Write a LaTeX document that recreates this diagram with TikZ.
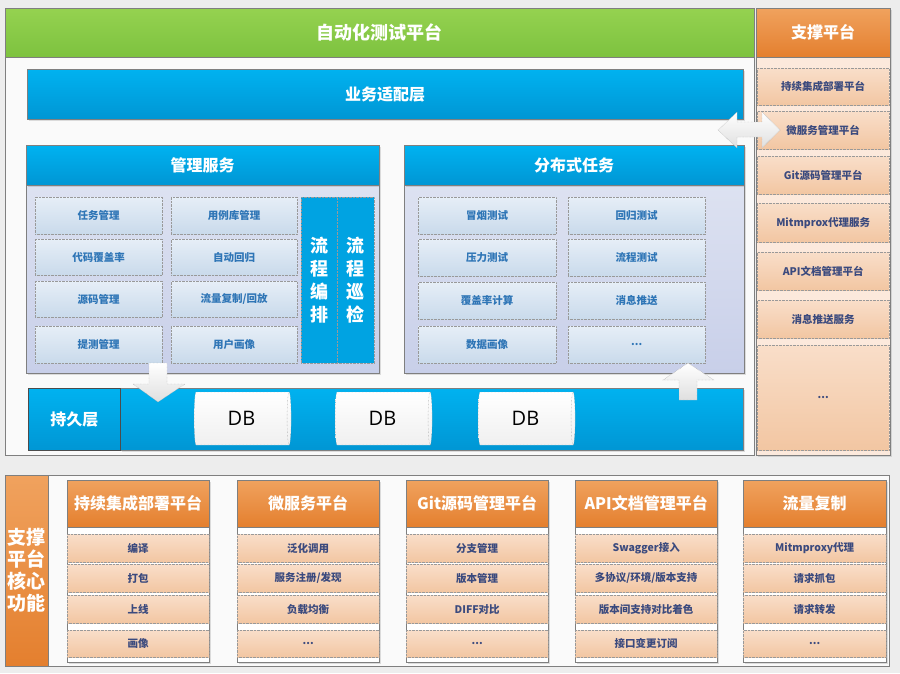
\documentclass[tikz,border=0pt]{standalone}
\usepackage{fontspec}
\setmainfont{Noto Sans CJK SC}
\newfontfamily\dbfont{Open Sans}
\usetikzlibrary{shapes.geometric,shadows}
\definecolor{bgc}{HTML}{EDEDED}
\definecolor{framec}{HTML}{FAFAFA}
\definecolor{framed}{HTML}{7F7F7F}
\definecolor{greenA}{HTML}{95D250}
\definecolor{greenB}{HTML}{7DC23F}
\definecolor{blueA}{HTML}{00B2F0}
\definecolor{blueB}{HTML}{0096D4}
\definecolor{blueC}{HTML}{00A3E2}
\definecolor{lavA}{HTML}{DDE2F1}
\definecolor{lavB}{HTML}{C8CFE9}
\definecolor{itA}{HTML}{E6EEF7}
\definecolor{itB}{HTML}{C9DAEB}
\definecolor{itT}{HTML}{2E75B6}
\definecolor{orA}{HTML}{F0A25E}
\definecolor{orB}{HTML}{E47F2E}
\definecolor{peA}{HTML}{F9DEC9}
\definecolor{peB}{HTML}{F2C6A2}
\definecolor{peBg}{HTML}{FCE9DC}
\definecolor{navyT}{HTML}{3B4A7E}
\newcommand\rb[7]{\pgfmathsetmacro\rbw{#5-#3}\pgfmathsetmacro\rbh{#6-#4}%
\node[inner sep=0pt,#1,anchor=north west,minimum width=\rbw pt,minimum height=\rbh pt] (#2) at (#3,#4) {#7};}
\begin{document}
\begin{tikzpicture}[x=1pt,y=-1pt,
  shd/.style={drop shadow={opacity=0.25,shadow xshift=1.5pt,shadow yshift=-1.5pt}},
  frame/.style={draw=framed,fill=framec,line width=0.8pt},
  greenhead/.style={draw=framed,top color=greenA,bottom color=greenB,text=white,font=\bfseries\fontsize{18}{21}\selectfont},
  bluehead/.style={draw=framed,top color=blueA,bottom color=blueB,text=white,font=\bfseries\fontsize{16}{19}\selectfont,shd},
  panel/.style={draw=framed,top color=lavA,bottom color=lavB,shd},
  bitem/.style={draw=gray!80,densely dotted,top color=itA,bottom color=itB,text=itT,font=\bfseries\fontsize{10.5}{12}\selectfont},
  vcol/.style={draw=gray!80,densely dotted,fill=blueC,text=white,align=center,font=\bfseries\fontsize{18}{23}\selectfont},
  orhead/.style={draw=framed,top color=orA,bottom color=orB,text=white,font=\bfseries\fontsize{16}{19}\selectfont},
  oitem/.style={draw=gray!80,densely dotted,top color=peA,bottom color=peB,text=navyT,font=\bfseries\fontsize{10.5}{12}\selectfont},
  colbox/.style={draw=framed,fill=white,shd},
  dbcyl/.style={cylinder,shape aspect=0.28,draw=gray!80,densely dotted,top color=white,bottom color=gray!12,inner sep=0pt,font=\dbfont\fontsize{20}{24}\selectfont,minimum width=53pt,minimum height=97pt},
  barrow/.style={draw=gray!80,densely dotted,top color=white,bottom color=gray!25}]
\useasboundingbox (0,0) rectangle (900,673);
\fill[bgc] (0,0) rectangle (900,673);

% main frame
\rb{frame}{main}{5}{8}{754}{455}{}
\rb{greenhead}{title}{5}{8}{754}{57}{自动化测试平台}
\rb{bluehead}{biz}{27}{69}{743}{119}{业务适配层}

% management service
\rb{panel}{mgmtbody}{26}{185}{379}{373}{}
\rb{bluehead}{mgmt}{26}{145}{379}{185}{管理服务}
\rb{bitem}{m11}{35}{197}{162}{234}{任务管理}
\rb{bitem}{m12}{35}{239}{162}{275}{代码覆盖率}
\rb{bitem}{m13}{35}{281}{162}{317}{源码管理}
\rb{bitem}{m14}{35}{326}{162}{363}{提测管理}
\rb{bitem}{m21}{171}{197}{297}{234}{用例库管理}
\rb{bitem}{m22}{171}{239}{297}{275}{自动回归}
\rb{bitem}{m23}{171}{281}{297}{317}{流量复制/回放}
\rb{bitem}{m24}{171}{326}{297}{363}{用户画像}
\rb{vcol}{flowa}{301}{197}{337}{363}{流\\程\\编\\排}
\rb{vcol}{flowb}{337}{197}{374}{363}{流\\程\\巡\\检}

% distributed tasks
\rb{panel}{distbody}{404}{185}{744}{373}{}
\rb{bluehead}{dist}{404}{145}{744}{185}{分布式任务}
\rb{bitem}{d11}{418}{197}{556}{234}{冒烟测试}
\rb{bitem}{d12}{418}{239}{556}{276}{压力测试}
\rb{bitem}{d13}{418}{282}{556}{319}{覆盖率计算}
\rb{bitem}{d14}{418}{326}{556}{363}{数据画像}
\rb{bitem}{d21}{568}{197}{705}{234}{回归测试}
\rb{bitem}{d22}{568}{239}{705}{276}{流程测试}
\rb{bitem}{d23}{568}{282}{705}{319}{消息推送}
\rb{bitem}{d24}{568}{326}{705}{363}{...}

% persistence layer
\rb{draw=framed,top color=blueA,bottom color=blueB,shd}{pbar}{120}{388}{743}{450}{}
\rb{draw=black!70,line width=0.8pt,top color=blueA,bottom color=blueB,text=white,font=\bfseries\fontsize{16}{19}\selectfont}{persist}{28}{388}{120}{450}{持久层}
\node[dbcyl] (db1) at (241.5,418.5) {DB};
\node[dbcyl] (db2) at (382.5,418.5) {DB};
\node[dbcyl] (db3) at (525.5,418.5) {DB};

% block arrows
\draw[barrow] (149,363) -- (167,363) -- (167,384) -- (185,384) -- (158,402) -- (133,384) -- (149,384) -- cycle;
\draw[barrow] (679,400) -- (697,400) -- (697,380) -- (714,380) -- (688,363) -- (663,380) -- (679,380) -- cycle;

% support platform
\rb{draw=framed,fill=peBg,shd}{supbody}{756}{8}{890}{455}{}
\rb{orhead}{sup}{756}{8}{890}{57}{支撑平台}
\rb{oitem}{s1}{757}{68}{889}{105}{持续集成部署平台}
\rb{oitem}{s2}{757}{111}{889}{149}{微服务管理平台}
\rb{oitem}{s3}{757}{156}{889}{194}{Git源码管理平台}
\rb{oitem}{s4}{757}{203}{889}{242}{Mitmprox代理服务}
\rb{oitem}{s5}{757}{252}{889}{290}{API文档管理平台}
\rb{oitem}{s6}{757}{300}{889}{338}{消息推送服务}
\rb{oitem}{s7}{757}{345}{889}{450}{...}

% double arrow
\draw[barrow] (718,130) -- (737,112) -- (737,122) -- (762,122) -- (762,112) -- (780,130) -- (762,148) -- (762,137) -- (737,137) -- (737,148) -- cycle;

% bottom section
\rb{frame}{core}{5}{475}{889}{666}{}
\rb{draw=framed,top color=orA,bottom color=orB,text=white,align=center,font=\bfseries\fontsize{19}{22}\selectfont}{corelab}{5}{475}{48}{666}{支撑\\平台\\核心\\功能}

\rb{colbox}{c1}{67}{480}{209}{662}{}
\rb{orhead}{h1}{67}{480}{209}{527}{持续集成部署平台}
\rb{oitem}{c1a}{67}{534}{209}{562}{编译}
\rb{oitem}{c1b}{67}{564}{209}{592}{打包}
\rb{oitem}{c1c}{67}{595}{209}{623}{上线}
\rb{oitem}{c1d}{67}{630}{209}{657}{画像}

\rb{colbox}{c2}{237}{480}{379}{662}{}
\rb{orhead}{h2}{237}{480}{379}{527}{微服务平台}
\rb{oitem}{c2a}{237}{534}{379}{562}{泛化调用}
\rb{oitem}{c2b}{237}{564}{379}{592}{服务注册/发现}
\rb{oitem}{c2c}{237}{595}{379}{623}{负载均衡}
\rb{oitem}{c2d}{237}{630}{379}{657}{...}

\rb{colbox}{c3}{406}{480}{548}{662}{}
\rb{orhead}{h3}{406}{480}{548}{527}{Git源码管理平台}
\rb{oitem}{c3a}{406}{534}{548}{562}{分支管理}
\rb{oitem}{c3b}{406}{564}{548}{592}{版本管理}
\rb{oitem}{c3c}{406}{595}{548}{623}{DIFF对比}
\rb{oitem}{c3d}{406}{630}{548}{657}{...}

\rb{colbox}{c4}{575}{480}{717}{662}{}
\rb{orhead}{h4}{575}{480}{717}{527}{API文档管理平台}
\rb{oitem}{c4a}{575}{534}{717}{562}{Swagger接入}
\rb{oitem}{c4b}{575}{564}{717}{592}{多协议/环境/版本支持}
\rb{oitem}{c4c}{575}{595}{717}{623}{版本间支持对比着色}
\rb{oitem}{c4d}{575}{630}{717}{657}{接口变更订阅}

\rb{colbox}{c5}{743}{480}{886}{662}{}
\rb{orhead}{h5}{743}{480}{886}{527}{流量复制}
\rb{oitem}{c5a}{743}{534}{886}{562}{Mitmproxy代理}
\rb{oitem}{c5b}{743}{564}{886}{592}{请求抓包}
\rb{oitem}{c5c}{743}{595}{886}{623}{请求转发}
\rb{oitem}{c5d}{743}{630}{886}{657}{...}
\end{tikzpicture}
\end{document}
